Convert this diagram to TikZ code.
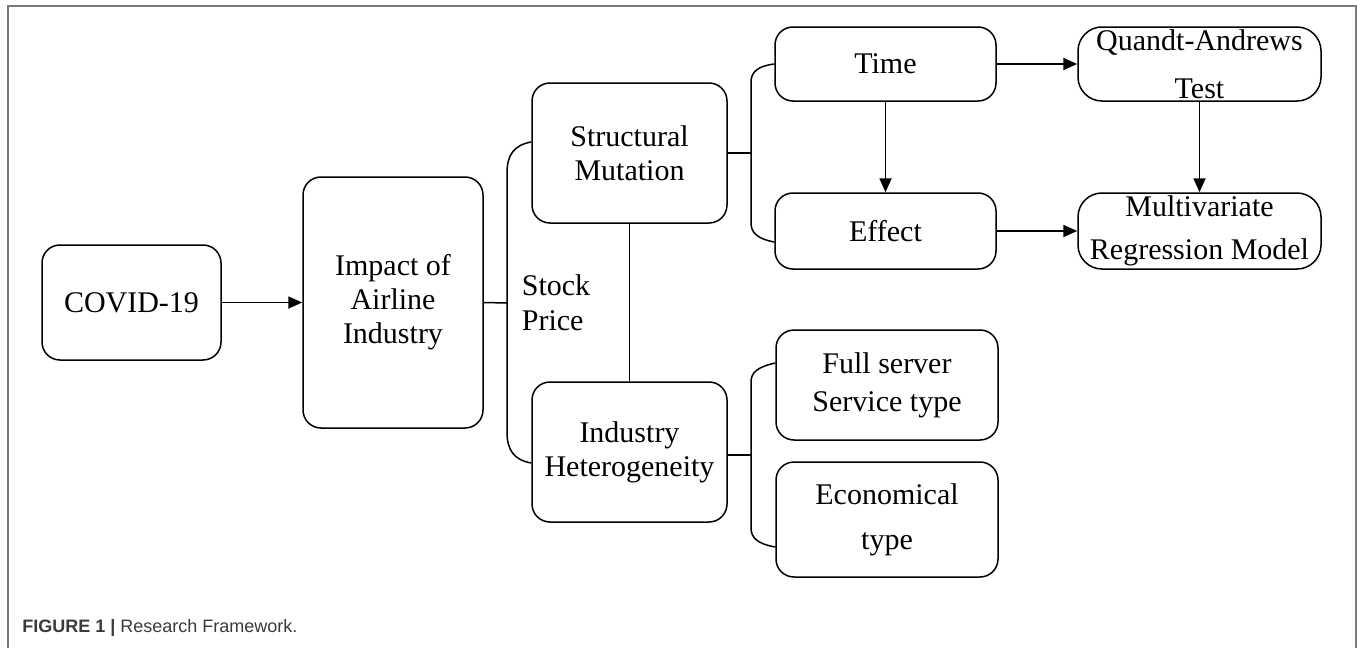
\documentclass[tikz,border=0pt]{standalone}
\usepackage{fontspec}
\setmainfont{Liberation Serif}
\setsansfont{Liberation Sans}
\usepackage{tikz}
\usetikzlibrary{arrows.meta}

\definecolor{framegray}{HTML}{7A7A7A}
\definecolor{captext}{HTML}{3A3A3A}

\begin{document}
\begin{tikzpicture}[x=0.5pt, y=-0.5pt,
        box/.style={draw, line width=0.75pt, rounded corners=9pt, align=center, inner sep=0pt,
            font=\fontsize{15}{17}\selectfont},
        link/.style={line width=0.75pt},
        arr/.style={line width=0.9pt, -{Triangle[length=7pt, width=6pt]}}]
    \useasboundingbox (0,0) rectangle (1357,648);
    % open frame
    \draw[framegray, line width=1pt] (7.5,648) -- (7.5,6) -- (1355.5,6) -- (1355.5,648);

    \node[box, minimum width=89.5pt, minimum height=57.5pt] (covid) at (131.5,302.5) {COVID-19};
    \node[box, minimum width=90pt, minimum height=125.5pt] (impact) at (393,302.5) {Impact of\\Airline\\Industry};
    \node[box, minimum width=97.5pt, minimum height=70pt] (mutation) at (629.5,153) {Structural\\Mutation};
    \node[box, minimum width=97.5pt, minimum height=70pt] (hetero) at (629.5,452) {Industry\\Heterogeneity};
    \node[align=left, inner sep=0pt, font=\fontsize{15}{17.5}\selectfont] (stock) at (556,303) {Stock\\Price};

    \node[box, minimum width=110.5pt, minimum height=37pt] (time) at (885.5,64) {Time};
    \node[box, minimum width=110.5pt, minimum height=38pt] (effect) at (885.5,231) {Effect};
    \node[box, rounded corners=12pt, minimum width=121.5pt, minimum height=37pt,
        font=\fontsize{15}{24}\selectfont] (qatest) at (1199.5,64) {Quandt-Andrews\\Test};
    \node[box, rounded corners=12pt, minimum width=121.5pt, minimum height=38pt,
        font=\fontsize{15}{21.5}\selectfont] (regress) at (1199.5,231) {Multivariate\\Regression Model};

    \node[box, minimum width=111pt, minimum height=55pt,
        font=\fontsize{15}{19}\selectfont] (fullsrv) at (887,385) {Full server\\Service type};
    \node[box, minimum width=111pt, minimum height=57.5pt,
        font=\fontsize{15}{22.5}\selectfont] (econ) at (887,519.5) {Economical\\type};

    % arrows
    \draw[arr] (covid) -- (impact);
    \draw[arr] (time) -- (effect);
    \draw[arr] (time) -- (qatest);
    \draw[arr] (qatest) -- (regress);
    \draw[arr] (effect) -- (regress);
    \draw[link] (mutation) -- (hetero);

    % brackets
    \coordinate (b1) at (507,303);
    \coordinate (b2) at (751,153);
    \coordinate (b3) at (751,455);
    \draw[link] (impact.east) -- (b1);
    \draw[link] ([yshift=5.5pt]mutation.west) .. controls (514,145) and (507,155) .. (507,173)
        -- (507,432) .. controls (507,450) and (514,460) .. ([yshift=-5.5pt]hetero.west);
    \draw[link] (mutation.east) -- (b2);
    \draw[link] (time.west) .. controls (758,66) and (751,72) .. (751,82)
        -- (751,223) .. controls (751,233) and (758,239) .. ([yshift=-5.5pt]effect.west);
    \draw[link] (b3 -| hetero.east) -- (b3);
    \draw[link] ([yshift=11pt]fullsrv.west) .. controls (758,367) and (751,372) .. (751,382)
        -- (751,528) .. controls (751,538) and (758,544) .. ([yshift=-13.75pt]econ.west);

    \node[anchor=base west, inner sep=0pt, text=captext, font=\sffamily\fontsize{9}{10}\selectfont]
        (caption) at (22,632) {\textbf{FIGURE 1 |} Research Framework.};
\end{tikzpicture}
\end{document}
